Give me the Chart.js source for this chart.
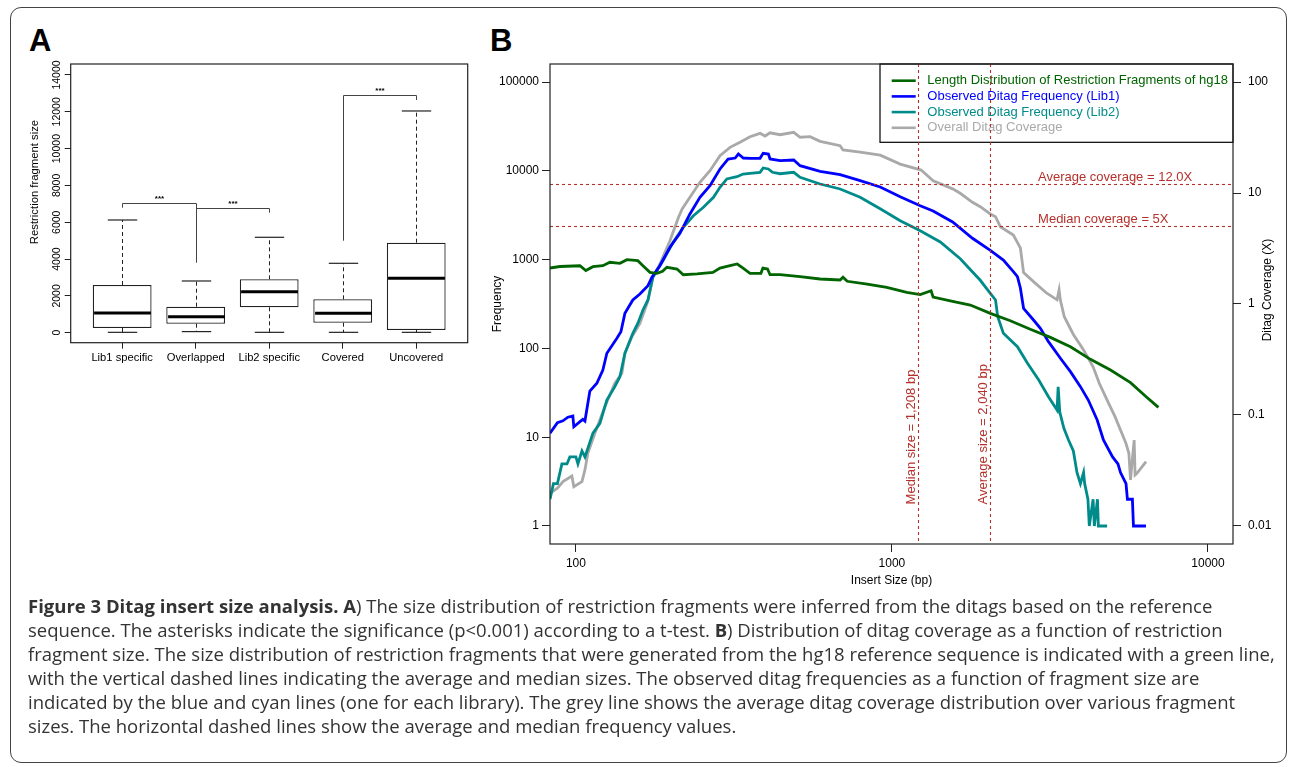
<!DOCTYPE html>
<html>
<head>
<meta charset="utf-8">
<script src="https://cdn.jsdelivr.net/npm/chart.js@4.4.0/dist/chart.umd.min.js"></script>
<style>
html, body { margin: 0; padding: 0; background: #fff; }
body { width: 1290px; height: 767px; position: relative; overflow: hidden; font-family: 'Liberation Sans', Arial, sans-serif; }
#frame { position: absolute; left: 10px; top: 7px; width: 1277px; height: 756px; border: 1.5px solid #444; border-radius: 11px; box-sizing: border-box; }
#wrapA { position: absolute; left: 0; top: 0; }
#wrapB { position: absolute; left: 480px; top: 0; }
.tag { position: absolute; font: bold 31px 'Liberation Sans', Arial, sans-serif; line-height: 31px; color: #000; }
#caption { position: absolute; left: 28px; top: 594px; font-family: 'Open Sans', sans-serif; font-size: 18.5px; color: #333; line-height: 23.9px; white-space: nowrap; }
#caption b { font-weight: 700; }
</style>
</head>
<body>
<div id="frame"></div>
<div class="tag" style="left:29px;top:25px">A</div>
<div class="tag" style="left:490px;top:25px">B</div>
<div id="wrapA"><canvas id="chartA" width="480" height="380"></canvas></div>
<div id="wrapB"><canvas id="chartB" width="810" height="600"></canvas></div>
<div id="caption">
<div><b>Figure 3 Ditag insert size analysis. A</b>) The size distribution of restriction fragments were inferred from the ditags based on the reference</div>
<div>sequence. The asterisks indicate the significance (p&lt;0.001) according to a t-test. <b>B</b>) Distribution of ditag coverage as a function of restriction</div>
<div>fragment size. The size distribution of restriction fragments that were generated from the hg18 reference sequence is indicated with a green line,</div>
<div>with the vertical dashed lines indicating the average and median sizes. The observed ditag frequencies as a function of fragment size are</div>
<div>indicated by the blue and cyan lines (one for each library). The grey line shows the average ditag coverage distribution over various fragment</div>
<div>sizes. The horizontal dashed lines show the average and median frequency values.</div>
</div>

<script>
Chart.defaults.font.family = "'Liberation Sans', Arial, sans-serif"
Chart.defaults.color = '#000'

// ── Panel A data ─────────────────────────────────────────────────────────────

const groups = ['Lib1 specific', 'Overlapped', 'Lib2 specific', 'Covered', 'Uncovered']
const whiskerLow = [20, 60, 20, 20, 20]
const boxLow = [255, 489, 1380, 543, 147]
const medians = [1070, 869, 2228, 1054, 2956]
const boxHigh = [2592, 1413, 2901, 1815, 4890]
const whiskerHigh = [6123, 2809, 5183, 3770, 12045]
const sizeTicksA = [0, 2000, 4000, 6000, 8000, 10000, 12000, 14000]

// significance brackets: from group, to group, bar height, left leg end, right leg end
const bracketFrom = [1, 2, 4]
const bracketTo = [2, 3, 5]
const bracketTop = [7030, 6759, 12914]
const bracketLeftEnd = [6791, 6759, 4998]
const bracketRightEnd = [3803, 6520, 12642]

// ── Panel B data ─────────────────────────────────────────────────────────────

const greenSize = [82.8, 89, 103, 107.5, 113.2, 121.7, 128.1, 137.8, 145, 157, 163, 171.5, 180.5, 188, 194, 209, 218.6, 241.8, 271.3, 285.7, 307.3, 323.9, 338, 355.6, 385, 390.5, 404, 411.4, 442.6, 512, 592.5, 685.5, 700, 722, 835, 963, 1114, 1229, 1330, 1350, 1556, 1770, 2048, 2369, 2741, 3172, 3671, 4247, 4915, 5687, 6373, 6970]
const greenFreq = [804, 836, 853, 754, 832, 853, 933, 908, 997, 972, 853, 719, 701, 738, 819, 783, 676, 689, 719, 804, 853, 892, 804, 701, 701, 804, 783, 676, 676, 642, 605, 589, 632, 570, 531, 488, 428, 403, 446, 379, 339, 308, 248, 205, 164, 133, 104.5, 75.3, 57.1, 41.1, 28.6, 21.7]

const lib1Size = [82.8, 87.4, 91.0, 94.3, 97.8, 98.5, 103, 105.2, 106.8, 110.7, 116.5, 121.7, 125.3, 134.8, 138.8, 142.9, 151.4, 159.4, 169.0, 174.0, 184.4, 198.4, 213.4, 229.5, 246.9, 265.6, 285.7, 303.0, 319.1, 326.6, 338.6, 355.6, 382.5, 391.3, 406.5, 411.4, 442.6, 488.9, 512.1, 592.5, 685.5, 793.2, 917.9, 1062, 1229, 1350, 1556, 1798, 2048, 2252, 2422, 2495, 2549, 2609, 2805, 2949, 3128, 3412, 3671, 3948, 4181, 4461, 4669, 4990, 5190, 5287, 5504, 5560, 5766, 5810, 6365]
const lib1Freq = [11.1, 14.6, 15.3, 16.8, 17.3, 13.1, 15.0, 15.9, 15.2, 33.1, 40.5, 57.1, 88.1, 130, 154, 248, 351, 410, 508, 632, 853, 1376, 1978, 3264, 5035, 6797, 10480, 13580, 13930, 15450, 13930, 13830, 13830, 15740, 15450, 13580, 13000, 13240, 11410, 9860, 9030, 7740, 6577, 5105, 4045, 3525, 2650, 1738, 1273, 989, 731, 642, 479, 283, 209, 168, 119, 77.4, 54.7, 37.1, 26.2, 15.6, 9.3, 6, 5, 4, 3, 2, 2, 1, 1]

const lib2Size = [82.8, 84.9, 87.4, 90.3, 93.7, 95.7, 100, 101.5, 104.5, 106.8, 108.4, 113.2, 119.1, 125.3, 132.8, 137.8, 142.9, 151.4, 157.1, 163.0, 169.0, 175.2, 188.4, 203.1, 218.6, 235.4, 253.2, 272.5, 285.7, 300.3, 323.2, 338.0, 355.6, 382.5, 391.3, 406.5, 418.8, 442.6, 488.9, 512.1, 592.5, 685.5, 793.2, 917.9, 1062, 1229, 1422, 1645, 1903, 2048, 2127, 2161, 2252, 2495, 2685, 2914, 3128, 3330, 3357, 3397, 3500, 3620, 3750, 3850, 3948, 4040, 4072, 4170, 4212, 4330, 4370, 4470, 4500, 4795]
const lib2Freq = [2, 3, 3, 5, 5, 6, 6, 5, 7, 6, 7, 11.1, 14.3, 26.2, 37.1, 48.0, 88.1, 148, 192, 271, 351, 632, 972, 1567, 2312, 3119, 3880, 5035, 6517, 8091, 8590, 9204, 9377, 9616, 10760, 10480, 9616, 9270, 9616, 8450, 7100, 6236, 5035, 3742, 2742, 2117, 1578, 1024, 585, 417, 351, 228, 148, 104.5, 68, 44.1, 28.6, 20.2, 37, 19.2, 12.6, 9.3, 7, 4, 3, 4, 3, 2, 1, 2, 1, 2, 1, 1]

const covSize = [82.8, 87.4, 91.0, 97.1, 98.5, 104.5, 106.8, 109.1, 114.8, 123.5, 132.8, 139.8, 142.9, 150.4, 159.4, 169.0, 175.2, 184.4, 198.4, 211.2, 216.9, 229.5, 246.9, 265.6, 285.7, 307.3, 330.6, 355.6, 382.5, 396.7, 411.4, 442.6, 488.9, 512.1, 550.8, 592.5, 685.5, 700, 793.2, 917.9, 1062, 1237, 1350, 1556, 1645, 1798, 1903, 2048, 2127, 2203, 2422, 2549, 2609, 2805, 3090, 3330, 3380, 3410, 3510, 3750, 4040, 4330, 4530, 4850, 5080, 5287, 5500, 5620, 5687, 5840, 5880, 5960, 6190, 6370]
const covValue = [0.0197, 0.0219, 0.0251, 0.0282, 0.0226, 0.0251, 0.032, 0.0452, 0.0684, 0.119, 0.193, 0.2375, 0.36, 0.5075, 0.67, 1.064, 1.74, 2.293, 3.717, 6.04, 7.17, 9.15, 12.48, 15.88, 21.68, 25.8, 28.62, 32.16, 34.5, 32.6, 34.9, 33.5, 35.2, 31.8, 32.2, 29.2, 26.7, 24.4, 23.3, 21.9, 18.2, 16.1, 12.9, 10.9, 9.94, 8.24, 7.53, 6.47, 6.12, 4.97, 4.18, 3.2, 1.92, 1.59, 1.25, 1.09, 1.34, 1.09, 0.768, 0.531, 0.385, 0.272, 0.193, 0.127, 0.0966, 0.0732, 0.0556, 0.0452, 0.026, 0.0595, 0.0288, 0.0298, 0.0342, 0.038]

const sizeTicks = [100, 1000, 10000]
const freqTicks = [1, 10, 100, 1000, 10000, 100000]
const covTicks = [0.01, 0.1, 1, 10, 100]

// reference lines
const refCoverage = [12.0, 5]
const refCoverageText = ['Average coverage = 12.0X', 'Median coverage = 5X']
const refSizes = [1208, 2040]
const refSizeText = ['Median size = 1,208 bp', 'Average size = 2,040 bp']

const seriesNames = ['Length Distribution of Restriction Fragments of hg18', 'Observed Ditag Frequency (Lib1)', 'Observed Ditag Frequency (Lib2)', 'Overall Ditag Coverage']
const seriesColors = ['#006400', '#0000ff', '#008b8b', '#a9a9a9']
const refColor = '#b5302b'


// ── Panel A ──────────────────────────────────────────────────────────────────

function line(ctx, x1, y1, x2, y2) {
    ctx.beginPath()
    ctx.moveTo(x1, y1)
    ctx.lineTo(x2, y2)
    ctx.stroke()
}

const boxExtras = {
    id: 'boxExtras',
    afterDatasetsDraw(chart) {
        const { ctx, chartArea: a, scales: { x, y } } = chart
        ctx.save()
        ctx.strokeStyle = '#222'

        groups.forEach((g, i) => {
            const cx = Math.round(x.getPixelForValue(i + 1)) + 0.5
            const cap = x.getPixelForValue(i + 1.2) - x.getPixelForValue(i + 1)
            const half = x.getPixelForValue(i + 1.4) - x.getPixelForValue(i + 1)
            ctx.lineWidth = 1
            ctx.setLineDash([4, 3])
            line(ctx, cx, y.getPixelForValue(boxHigh[i]), cx, y.getPixelForValue(whiskerHigh[i]))
            line(ctx, cx, y.getPixelForValue(boxLow[i]), cx, y.getPixelForValue(whiskerLow[i]))
            ctx.setLineDash([])
            ctx.lineWidth = 1.2
            line(ctx, cx - cap, y.getPixelForValue(whiskerHigh[i]), cx + cap, y.getPixelForValue(whiskerHigh[i]))
            line(ctx, cx - cap, y.getPixelForValue(whiskerLow[i]), cx + cap, y.getPixelForValue(whiskerLow[i]))
            ctx.lineWidth = 3
            ctx.strokeStyle = '#000'
            line(ctx, cx - half + 1, y.getPixelForValue(medians[i]), cx + half - 1, y.getPixelForValue(medians[i]))
            ctx.strokeStyle = '#222'
        })

        // brackets
        ctx.strokeStyle = '#444'
        ctx.lineWidth = 1
        ctx.fillStyle = '#000'
        ctx.font = "bold 8px 'Liberation Sans', Arial, sans-serif"
        ctx.textAlign = 'center'
        ctx.textBaseline = 'bottom'
        bracketFrom.forEach((f, i) => {
            const x1 = Math.round(x.getPixelForValue(f)) + 0.5
            const x2 = Math.round(x.getPixelForValue(bracketTo[i])) + 0.5
            const yt = Math.round(y.getPixelForValue(bracketTop[i])) + 0.5
            ctx.beginPath()
            ctx.moveTo(x1, y.getPixelForValue(bracketLeftEnd[i]))
            ctx.lineTo(x1, yt)
            ctx.lineTo(x2, yt)
            ctx.lineTo(x2, y.getPixelForValue(bracketRightEnd[i]))
            ctx.stroke()
            ctx.fillText('***', (x1 + x2) / 2, yt - 0.5)
        })

        // frame
        ctx.strokeStyle = '#222'
        ctx.lineWidth = 1.2
        ctx.strokeRect(a.left, a.top, a.right - a.left, a.bottom - a.top)

        // rotated tick labels and axis title
        ctx.font = "10.5px 'Liberation Sans', Arial, sans-serif"
        ctx.textAlign = 'center'
        ctx.textBaseline = 'middle'
        sizeTicksA.forEach(v => {
            ctx.save()
            ctx.translate(a.left - 14, y.getPixelForValue(v))
            ctx.rotate(-Math.PI / 2)
            ctx.fillText(String(v), 0, 0)
            ctx.restore()
        })
        ctx.font = "11.3px 'Liberation Sans', Arial, sans-serif"
        ctx.save()
        ctx.translate(35, 182)
        ctx.rotate(-Math.PI / 2)
        ctx.fillText('Restriction fragment size', 0, 0)
        ctx.restore()

        ctx.restore()
    }
}

new Chart(document.getElementById('chartA'), {
    type: 'bar',
    data: {
        datasets: [{
            data: groups.map((g, i) => ({ x: i + 1, y: [boxLow[i], boxHigh[i]] })),
            backgroundColor: '#fff',
            borderColor: '#222',
            borderWidth: 1.3,
            borderSkipped: false,
            categoryPercentage: 1,
            barPercentage: 0.8,
        }]
    },
    options: {
        responsive: false,
        animation: false,
        layout: { padding: { top: 64, right: 12.3, left: 0, bottom: 0 } },
        plugins: { legend: { display: false }, tooltip: { enabled: false } },
        scales: {
            x: {
                type: 'linear', min: 0.3, max: 5.7, offset: false,
                afterBuildTicks: s => { s.ticks = groups.map((g, i) => ({ value: i + 1 })) },
                afterFit: s => { s.height = 37.3 },
                ticks: { callback: v => groups[v - 1], font: { size: 11.2 }, padding: 2, autoSkip: false, maxRotation: 0 },
                grid: { offset: false, drawOnChartArea: false, tickLength: 6, color: '#222' },
                border: { display: false },
            },
            y: {
                min: -543, max: 14597,
                afterBuildTicks: s => { s.ticks = sizeTicksA.map(v => ({ value: v })) },
                afterFit: s => { s.width = 70.7 },
                ticks: { display: false },
                grid: { drawOnChartArea: false, tickLength: 6, color: '#222' },
                border: { display: false },
            }
        }
    },
    plugins: [boxExtras]
})


// ── Panel B ──────────────────────────────────────────────────────────────────

const points = (xs, ys) => xs.map((v, i) => ({ x: v, y: ys[i] }))

const lineCfg = (data, color, axis) => ({
    data,
    borderColor: color,
    borderWidth: 2.8,
    pointRadius: 0,
    tension: 0,
    fill: false,
    yAxisID: axis,
})

const figB = {
    id: 'figB',
    afterDraw(chart) {
        const { ctx, chartArea: a, scales: { x, y, y2 } } = chart
        ctx.save()

        // legend
        const lx = a.right - 353
        const lh = 78.3
        ctx.strokeStyle = '#000'
        ctx.lineWidth = 1.2
        ctx.strokeRect(lx, a.top, a.right - lx, lh)
        ctx.font = "13px 'Liberation Sans', Arial, sans-serif"
        ctx.textAlign = 'left'
        ctx.textBaseline = 'middle'
        seriesNames.forEach((n, i) => {
            const ly = a.top + 16.7 + i * 15.7
            ctx.strokeStyle = seriesColors[i]
            ctx.lineWidth = 2.6
            line(ctx, lx + 11.7, ly, lx + 35.7, ly)
            ctx.fillStyle = seriesColors[i]
            ctx.fillText(n, lx + 47.3, ly)
        })

        // reference lines
        ctx.strokeStyle = refColor
        ctx.lineWidth = 1.1
        ctx.setLineDash([3, 3])
        refCoverage.forEach(v => {
            const py = Math.round(y2.getPixelForValue(v)) + 0.5
            line(ctx, a.left, py, a.right, py)
        })
        refSizes.forEach(v => {
            const px = Math.round(x.getPixelForValue(v)) + 0.5
            line(ctx, px, a.top, px, a.bottom)
        })
        ctx.setLineDash([])

        ctx.fillStyle = refColor
        ctx.font = "13px 'Liberation Sans', Arial, sans-serif"
        ctx.textBaseline = 'middle'
        refCoverage.forEach((v, i) => {
            ctx.fillText(refCoverageText[i], x.getPixelForValue(2900), y2.getPixelForValue(v) - 6.8)
        })
        refSizes.forEach((v, i) => {
            ctx.save()
            ctx.translate(x.getPixelForValue(v) - 6, y.getPixelForValue(1.75))
            ctx.rotate(-Math.PI / 2)
            ctx.textAlign = 'left'
            ctx.fillText(refSizeText[i], 0, 0)
            ctx.restore()
        })

        // frame
        ctx.strokeStyle = '#222'
        ctx.lineWidth = 1.2
        ctx.strokeRect(a.left, a.top, a.right - a.left, a.bottom - a.top)

        // right axis title (reads bottom to top)
        ctx.fillStyle = '#000'
        ctx.font = "12px 'Liberation Sans', Arial, sans-serif"
        ctx.save()
        ctx.translate(a.right + 35, 290)
        ctx.rotate(-Math.PI / 2)
        ctx.textAlign = 'center'
        ctx.fillText('Ditag Coverage (X)', 0, 0)
        ctx.restore()

        ctx.restore()
    }
}

const axisGrid = { drawOnChartArea: false, tickLength: 8, color: '#222' }

new Chart(document.getElementById('chartB'), {
    type: 'line',
    data: {
        datasets: [
            lineCfg(points(greenSize, greenFreq), seriesColors[0], 'y'),
            lineCfg(points(lib1Size, lib1Freq), seriesColors[1], 'y'),
            lineCfg(points(lib2Size, lib2Freq), seriesColors[2], 'y'),
            lineCfg(points(covSize, covValue), seriesColors[3], 'y2'),
        ]
    },
    options: {
        responsive: false,
        animation: false,
        layout: { padding: { top: 64, right: 0, left: 0, bottom: 0 } },
        plugins: { legend: { display: false }, tooltip: { enabled: false } },
        scales: {
            x: {
                type: 'logarithmic', min: 82.8, max: 12000, bounds: 'data',
                afterBuildTicks: s => { s.ticks = sizeTicks.map(v => ({ value: v })) },
                afterFit: s => { s.height = 56 },
                ticks: { callback: v => String(v), font: { size: 12 }, padding: 4, autoSkip: false, maxRotation: 0 },
                grid: axisGrid,
                border: { display: false },
                title: { display: true, text: 'Insert Size (bp)', font: { size: 12 }, padding: { top: 0, bottom: 12 } },
            },
            y: {
                type: 'logarithmic', position: 'left', min: 0.627, max: 159500, bounds: 'data',
                afterBuildTicks: s => { s.ticks = freqTicks.map(v => ({ value: v })) },
                afterFit: s => { s.width = 70 },
                ticks: { callback: v => String(v), font: { size: 12 }, padding: 3, autoSkip: false },
                grid: axisGrid,
                border: { display: false },
                title: { display: true, text: 'Frequency', font: { size: 12 }, padding: { top: 10, bottom: 0 } },
            },
            y2: {
                type: 'logarithmic', position: 'right', min: 0.00688, max: 145.3, bounds: 'data',
                afterBuildTicks: s => { s.ticks = covTicks.map(v => ({ value: v })) },
                afterFit: s => { s.width = 57 },
                ticks: { callback: v => String(v), font: { size: 12 }, padding: 7, autoSkip: false },
                grid: axisGrid,
                border: { display: false },
            }
        }
    },
    plugins: [figB]
})
</script>
</body>
</html>
